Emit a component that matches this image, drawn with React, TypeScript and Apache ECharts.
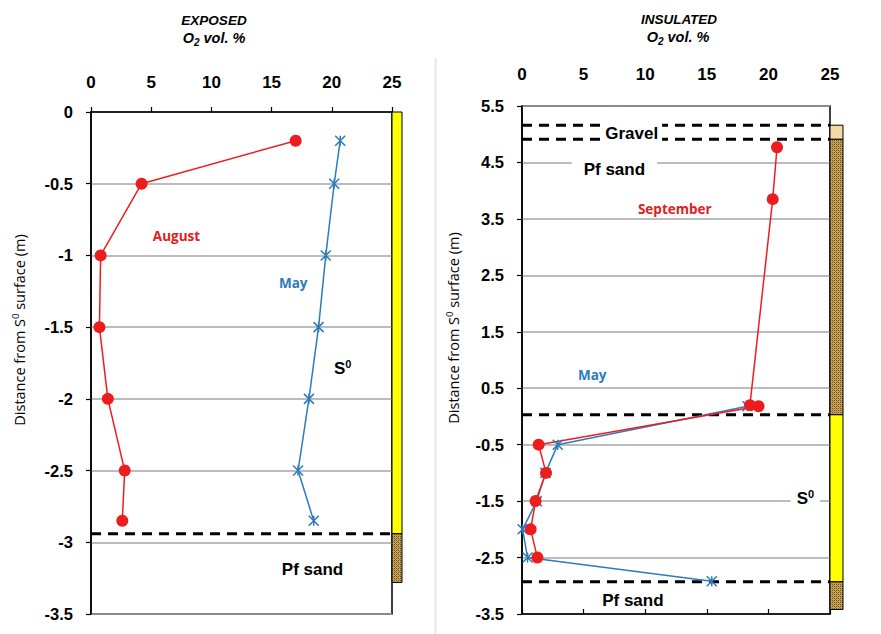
import React, { useEffect, useRef } from "react";
import * as echarts from "echarts";

// ---------- data ----------
const xTicks = [0, 5, 10, 15, 20, 25];

// EXPOSED panel
const exposedAugustO2 = [17.0, 4.2, 0.8, 0.7, 1.4, 2.8, 2.6];
const exposedAugustDepth = [-0.2, -0.5, -1.0, -1.5, -2.0, -2.5, -2.85];
const exposedMayO2 = [20.7, 20.2, 19.5, 18.9, 18.1, 17.2, 18.5];
const exposedMayDepth = [-0.2, -0.5, -1.0, -1.5, -2.0, -2.5, -2.85];
const exposedBoundaries = [-2.94];
// layers: [top, bottom, kind]
const exposedLayers: [number, number, string][] = [
  [0, -2.94, "S0"],
  [-2.94, -3.28, "sand"],
];

// INSULATED panel
const insulatedSeptO2 = [20.7, 20.35, 18.5, 19.2, 1.35, 1.95, 1.1, 0.7, 1.25];
const insulatedSeptDepth = [4.77, 3.85, 0.2, 0.18, -0.5, -1.0, -1.5, -2.0, -2.5];
const insulatedMayO2 = [18.3, 2.9, 1.9, 1.2, 0.05, 0.45, 15.4];
const insulatedMayDepth = [0.18, -0.5, -1.0, -1.5, -2.0, -2.5, -2.92];
const insulatedBoundaries = [5.16, 4.91, 0.03, -2.93];
const insulatedLayers: [number, number, string][] = [
  [5.16, 4.91, "gravel"],
  [4.91, 0.03, "sand"],
  [0.03, -2.93, "S0"],
  [-2.93, -3.42, "sand"],
];
const insulatedYTicks = ["-3.5", "-2.5", "-1.5", "-0.5", "0.5", "1.5", "2.5", "3.5", "4.5", "5.5"];
const insulatedOffset = 3.5;

// annotations: [text, o2, depth, style]
const exposedNotes: [string, number, number, string][] = [
  ["August", 7.1, -0.865, "red"],
  ["May", 16.8, -1.19, "blue"],
  ["S0", 20.9, -1.79, "s0"],
  ["Pf sand", 18.4, -3.19, "sand"],
];
const insulatedNotes: [string, number, number, string][] = [
  ["Gravel", 8.9, 5.02, "gravelBg"],
  ["Pf sand", 7.5, 4.37, "sandBg"],
  ["September", 12.4, 3.67, "red"],
  ["May", 5.7, 0.73, "blue"],
  ["S0", 23.0, -1.45, "s0Bg"],
  ["Pf sand", 9.0, -3.26, "sand"],
];

const RED = "#ee1d1d";
const BLUE = "#2c7bbd";
const TICK_FONT = "Liberation Sans, Arial, sans-serif";
const NOTE_FONT = "Open Sans, Noto Sans, sans-serif";

function makeSandPattern(): any {
  const c = document.createElement("canvas");
  c.width = 4;
  c.height = 4;
  const ctx = c.getContext("2d");
  if (!ctx) return "#a8864a";
  ctx.fillStyle = "#c9a35a";
  ctx.fillRect(0, 0, 4, 4);
  ctx.fillStyle = "#6e5424";
  ctx.fillRect(0, 0, 1, 1);
  ctx.fillRect(2, 2, 1, 1);
  ctx.fillRect(2, 0, 1, 1);
  ctx.fillRect(0, 2, 1, 1);
  ctx.fillStyle = "#a07e3e";
  ctx.fillRect(1, 1, 1, 1);
  ctx.fillRect(3, 3, 1, 1);
  return { image: c.toDataURL(), repeat: "repeat" };
}

function zip(xs: number[], ys: number[], off = 0) {
  return xs.map((x, i) => [x, ys[i] + off]);
}

export default function App() {
  const ref = useRef<HTMLDivElement>(null);

  useEffect(() => {
    if (!ref.current) return;
    const chart = echarts.init(ref.current, undefined, { renderer: "svg" });
    const sand = makeSandPattern();
    const layerFill: Record<string, any> = {
      S0: "#ffff00",
      sand,
      gravel: "#f3d9a4",
    };

    const xAxisBase = (gridIndex: number, margin: number) => ({
      type: "value",
      gridIndex,
      position: "top",
      min: 0,
      max: 25,
      interval: 5,
      axisLine: { show: true, lineStyle: { color: "#000", width: 1.5 } },
      axisTick: { show: true, inside: false, length: 5, lineStyle: { color: "#000", width: 1.2 } },
      axisLabel: {
        margin,
        color: "#000",
        fontFamily: TICK_FONT,
        fontWeight: "bold",
        fontSize: 17,
        formatter: (v: number) => (xTicks.includes(v) ? String(v) : ""),
      },
      splitLine: { show: false },
    });

    const yAxisBase = (gridIndex: number) => ({
      type: "value",
      gridIndex,
      axisLine: { show: true, lineStyle: { color: "#000", width: 1.5 } },
      axisTick: { show: true, inside: false, length: 5, lineStyle: { color: "#000", width: 1.2 } },
      axisLabel: {
        margin: 18,
        color: "#000",
        fontFamily: TICK_FONT,
        fontWeight: "bold",
        fontSize: 16.5,
      },
      splitLine: { show: true, lineStyle: { color: "#a6a6a6", width: 1.5 } },
    });

    const layerSeries = (idx: number, layers: [number, number, string][], off: number, w: number) => ({
      type: "custom",
      xAxisIndex: idx,
      yAxisIndex: idx,
      clip: false,
      z: 3,
      data: layers.map((l) => [l[0] + off, l[1] + off, l[2]]),
      dimensions: ["top", "bottom", "kind"],
      encode: { y: [0, 1] },
      renderItem: (params: any, api: any) => {
        const i = params.dataIndex;
        const l = layers[i];
        const p1 = api.coord([25, l[0] + off]);
        const p2 = api.coord([25, l[1] + off]);
        return {
          type: "rect",
          shape: { x: p1[0], y: p1[1], width: w, height: p2[1] - p1[1] },
          style: { fill: layerFill[l[2]], stroke: "#000", lineWidth: 1 },
        };
      },
    });

    const boundarySeries = (idx: number, ys: number[], off: number) =>
      ys.map((y) => ({
        type: "line",
        xAxisIndex: idx,
        yAxisIndex: idx,
        symbol: "none",
        z: 4,
        lineStyle: { color: "#000", width: 3, type: [10, 7] },
        data: [
          [0, y + off],
          [25, y + off],
        ],
      }));

    const noteStyle = (kind: string, text: string) => {
      const base: any = {
        align: "center",
        verticalAlign: "middle",
        fontFamily: NOTE_FONT,
        fontWeight: "bold",
      };
      if (kind === "red") return { ...base, text, fill: "#e02020", fontSize: 13.5 };
      if (kind === "blue") return { ...base, text, fill: BLUE, fontSize: 13.5 };
      if (kind.startsWith("s0")) {
        return {
          ...base,
          text: "{b|S}{sup|0}",
          fill: "#000",
          backgroundColor: kind === "s0Bg" ? "#fff" : undefined,
          padding: [2, 6, 2, 6],
          rich: {
            b: { fontFamily: TICK_FONT, fontWeight: "bold", fontSize: 17, fill: "#000", lineHeight: 20 },
            sup: {
              fontFamily: TICK_FONT,
              fontWeight: "bold",
              fontSize: 11,
              fill: "#000",
              verticalAlign: "top",
              lineHeight: 20,
            },
          },
        };
      }
      const bg = kind === "gravelBg" || kind === "sandBg";
      return {
        ...base,
        text,
        fill: "#000",
        fontFamily: TICK_FONT,
        fontSize: 17,
        backgroundColor: bg ? "#fff" : undefined,
        padding: kind === "sandBg" ? [3, 12, 3, 12] : kind === "gravelBg" ? [6, 4, 6, 4] : 0,
      };
    };

    const noteSeries = (idx: number, notes: [string, number, number, string][], off: number) => ({
      type: "custom",
      xAxisIndex: idx,
      yAxisIndex: idx,
      clip: false,
      z: 10,
      data: notes.map((n) => [n[1], n[2] + off]),
      renderItem: (params: any, api: any) => {
        const n = notes[params.dataIndex];
        const p = api.coord([n[1], n[2] + off]);
        return { type: "text", x: p[0], y: p[1], style: noteStyle(n[3], n[0]) };
      },
    });

    const starSymbol = "path://M0,0L10,10M10,0L0,10M5,0L5,10";

    const lineSeries = (idx: number, data: number[][], color: string, star: boolean) => ({
      type: "line",
      xAxisIndex: idx,
      yAxisIndex: idx,
      z: 6,
      data,
      symbol: star ? starSymbol : "circle",
      symbolSize: star ? 10 : 12,
      symbolKeepAspect: true,
      showSymbol: true,
      lineStyle: { color, width: 1.5 },
      itemStyle: star
        ? { color: "none", borderColor: color, borderWidth: 1.5 }
        : { color, borderWidth: 0 },
    });

    const titleRich = {
      a: { fontFamily: TICK_FONT, fontStyle: "italic", fontWeight: "bold", fontSize: 14.5, fill: "#000", lineHeight: 18 },
      sub: {
        fontFamily: TICK_FONT,
        fontStyle: "italic",
        fontWeight: "bold",
        fontSize: 10,
        fill: "#000",
        verticalAlign: "bottom",
        lineHeight: 14,
      },
    };
    const axisTitleRich = {
      t: { fontFamily: NOTE_FONT, fontSize: 14.5, fill: "#000", lineHeight: 18 },
      sup: { fontFamily: NOTE_FONT, fontSize: 9.5, fill: "#000", verticalAlign: "top", lineHeight: 18 },
    };

    const option: any = {
      animation: false,
      backgroundColor: "#fff",
      grid: [
        { left: 91, top: 112, right: 881 - 392, bottom: 20, show: true, borderColor: "#000", borderWidth: 1.5, backgroundColor: "transparent" },
        { left: 522, top: 106, right: 881 - 830, bottom: 20, show: true, borderColor: "#000", borderWidth: 1.5, backgroundColor: "transparent" },
      ],
      xAxis: [xAxisBase(0, 21), xAxisBase(1, 23)],
      yAxis: [
        { ...yAxisBase(0), min: -3.5, max: 0, interval: 0.5 },
        {
          ...yAxisBase(1),
          min: 0,
          max: 9,
          interval: 1,
          axisLabel: {
            ...yAxisBase(1).axisLabel,
            formatter: (v: number) => insulatedYTicks[Math.round(v)] ?? "",
          },
        },
      ],
      series: [
        layerSeries(0, exposedLayers, 0, 10),
        layerSeries(1, insulatedLayers, insulatedOffset, 13),
        ...boundarySeries(0, exposedBoundaries, 0),
        ...boundarySeries(1, insulatedBoundaries, insulatedOffset),
        lineSeries(0, zip(exposedMayO2, exposedMayDepth), BLUE, true),
        lineSeries(0, zip(exposedAugustO2, exposedAugustDepth), RED, false),
        lineSeries(1, zip(insulatedMayO2, insulatedMayDepth, insulatedOffset), BLUE, true),
        lineSeries(1, zip(insulatedSeptO2, insulatedSeptDepth, insulatedOffset), RED, false),
        noteSeries(0, exposedNotes, 0),
        noteSeries(1, insulatedNotes, insulatedOffset),
      ],
      graphic: [
        { type: "line", shape: { x1: 435.5, y1: 58, x2: 435.5, y2: 634 }, style: { stroke: "#e6e6e6", lineWidth: 2 } },
        { type: "text", x: 214, y: 20, style: { text: "EXPOSED", align: "center", verticalAlign: "middle", fontFamily: TICK_FONT, fontStyle: "italic", fontWeight: "bold", fontSize: 13.5, fill: "#000" } },
        { type: "text", x: 214, y: 38, style: { text: "{a|O}{sub|2}{a| vol. %}", align: "center", verticalAlign: "middle", rich: titleRich } },
        { type: "text", x: 679, y: 19, style: { text: "INSULATED", align: "center", verticalAlign: "middle", fontFamily: TICK_FONT, fontStyle: "italic", fontWeight: "bold", fontSize: 13.5, fill: "#000" } },
        { type: "text", x: 678, y: 37, style: { text: "{a|O}{sub|2}{a| vol. %}", align: "center", verticalAlign: "middle", rich: titleRich } },
        { type: "text", x: 19, y: 330, rotation: Math.PI / 2, style: { text: "{t|Distance from S}{sup|0}{t| surface (m)}", align: "center", verticalAlign: "middle", rich: axisTitleRich } },
        { type: "text", x: 453, y: 328, rotation: Math.PI / 2, style: { text: "{t|Distance from S}{sup|0}{t| surface (m)}", align: "center", verticalAlign: "middle", rich: axisTitleRich } },
      ],
    };
    chart.setOption(option);
    return () => chart.dispose();
  }, []);

  return (
    <div
      ref={ref}
      style={{ position: "fixed", left: 0, top: 0, width: 881, height: 634, background: "#fff" }}
    />
  );
}
